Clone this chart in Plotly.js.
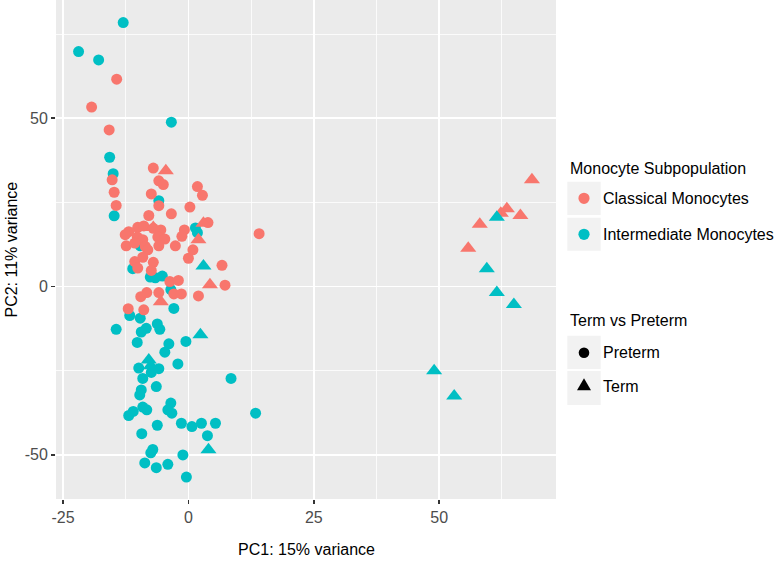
<!DOCTYPE html>
<html>
<head>
<meta charset="utf-8">
<script src="https://cdn.plot.ly/plotly-3.0.1.min.js"></script>
<style>
  html, body { margin: 0; padding: 0; background: #ffffff; }
  #chart { width: 778px; height: 562px; }
</style>
</head>
<body>
<div id="chart"></div>
<script>
// ---------------- DATA ----------------
const subpopulations = ["Classical Monocytes", "Intermediate Monocytes"];
const termGroups = ["Preterm", "Term"];

const classicalPretermX = [-14.3, -19.3, -15.8, -7.0, -5.9, -5.0, -15.2, 1.8, 2.8, -14.8, -7.4, -5.9, -14.4, 0.3, -3.4, -7.9, 3.9, 14.1,
  -10.1, -8.9, -11.9, -12.6, -7.0, -5.5, -0.8, -1.3, -10.2, -9.1, -12.4, -10.7, -8.6, -8.1, -6.1, -4.7, -5.9, -2.6, 0.9, 0.0,
  -10.7, -9.1, -7.0, -10.1, -7.4, 6.7, -3.7, -2.0, 7.3, -9.5, -8.3, -5.9, -2.9, -1.4, 2.0, -12.0, -8.9];
const classicalPretermY = [61.6, 53.3, 46.5, 35.2, 31.4, 30.3, 31.7, 29.7, 27.1, 28.0, 27.5, 24.0, 24.1, 23.6, 21.6, 21.1, 19.0, 15.7,
  17.6, 18.0, 16.3, 15.4, 17.3, 16.8, 16.8, 14.9, 14.7, 13.9, 12.1, 12.9, 11.9, 10.9, 14.7, 14.1, 12.1, 12.1, 10.9, 8.4,
  7.4, 8.7, 7.2, 5.5, 4.8, 6.3, 1.5, 1.8, 0.4, -3.0, -1.8, -1.8, -2.2, -2.2, -2.8, -6.6, -6.9];

const classicalTermX = [-4.5, 3.0, -7.0, 2.0, 4.3, -5.5, 68.5, 63.5, 62.3, 66.2, 58.1, 55.8];
const classicalTermY = [34.4, 18.8, 17.5, 13.9, 0.5, -4.5, 31.7, 23.1, 21.8, 21.1, 18.5, 11.4];

const intermediatePretermX = [-13.0, -21.9, -17.9, -3.4, -15.7, -15.0, -5.9, -14.8, 1.4, 1.8, -9.6, -11.1, -7.6, -6.6, -5.2, -3.5, -2.9,
  -11.7, -9.6, -14.4, -8.4, -9.4, -6.2, -5.7, -10.2, -3.9, -4.7, -0.5, -2.1, -9.9, -7.4, -5.9, -9.1, 8.5, -6.4, -9.4, -9.7,
  -3.5, -4.1, -3.3, -9.1, -8.3, -11.0, -11.9, 13.4, -6.2, -1.4, 0.7, 2.6, 5.4, -9.3, 3.8, -7.1, -7.5, -1.1, -8.7, -6.4, -4.1, -0.4];
const intermediatePretermY = [78.4, 69.8, 67.3, 48.8, 38.4, 33.5, 25.5, 21.0, 17.4, 16.0, 12.1, 5.3, 2.8, 2.6, 3.1, -0.9, -6.5,
  -8.6, -9.4, -12.7, -12.4, -13.5, -11.1, -12.7, -16.6, -17.0, -19.5, -16.3, -23.0, -24.2, -25.5, -24.4, -27.3, -27.3, -29.7, -30.7, -32.2,
  -34.6, -36.6, -37.6, -35.8, -36.6, -37.1, -38.3, -37.6, -41.2, -40.6, -41.6, -40.6, -40.6, -43.7, -44.3, -48.4, -49.4, -50.0, -52.4, -53.8, -52.8, -56.6];

const intermediateTermX = [3.0, 2.4, -7.9, -7.5, 4.0, 61.5, 59.5, 61.5, 64.9, 49.0, 53.0];
const intermediateTermY = [6.1, -14.3, -21.8, -23.5, -48.5, 20.6, 5.3, -1.8, -5.3, -25.0, -32.5];

const xTickVals = [-25, 0, 25, 50];
const xTickText = ["-25", "0", "25", "50"];
const xMinorVals = [-12.5, 12.5, 37.5, 62.5];
const yTickVals = [-50, 0, 50];
const yTickText = ["-50", "0", "50"];
const yMinorVals = [-25, 25, 75];

const colors = ["#F8766D", "#00BFC4"];

// ---------------- LAYOUT GEOMETRY ----------------
const W = 778, H = 562, L = 56, R = 222, T = 0, B = 63;
const PW = W - L - R, PH = H - T - B;
const px = x => (x - L) / PW;          // pixel x -> paper x
const py = y => (T + PH - y) / PH;     // pixel y -> paper y
const FONT = "Liberation Sans, Arial, Helvetica, sans-serif";

function pts(x, y, color, symbol, size) {
  return {
    type: "scatter", mode: "markers", x: x, y: y, showlegend: false, hoverinfo: "skip",
    marker: { color: color, symbol: symbol, size: size, line: { width: 0 } }
  };
}

const data = [
  pts(intermediatePretermX, intermediatePretermY, colors[1], "circle", 11),
  pts(classicalPretermX, classicalPretermY, colors[0], "circle", 11),
  pts(classicalTermX, classicalTermY, colors[0], "triangle-up", 14),
  pts(intermediateTermX, intermediateTermY, colors[1], "triangle-up", 14)
];

// legend (drawn ggplot-style)
const shapes = [];
const annotations = [];
function keyBox(y0, y1) {
  shapes.push({ type: "rect", xref: "paper", yref: "paper", x0: px(567.3), x1: px(600.7), y0: py(y1), y1: py(y0),
    fillcolor: "#F2F2F2", line: { width: 0 }, layer: "above" });
}
function keyCircle(cy, color, r) {
  shapes.push({ type: "circle", xref: "paper", yref: "paper", xsizemode: "pixel", ysizemode: "pixel",
    xanchor: px(584), yanchor: py(cy), x0: -r, x1: r, y0: -r, y1: r, fillcolor: color, line: { width: 0 }, layer: "above" });
}
function keyTriangle(cy, color) {
  shapes.push({ type: "path", xref: "paper", yref: "paper", xsizemode: "pixel", ysizemode: "pixel",
    xanchor: px(584), yanchor: py(cy), path: "M-7,-4.2 L7,-4.2 L0,7.8 Z", fillcolor: color, line: { width: 0 }, layer: "above" });
}
function label(text, x, y, anchor) {
  annotations.push({ text: text, xref: "paper", yref: "paper", x: px(x), y: py(y), xanchor: anchor || "left", yanchor: "middle",
    showarrow: false, font: { family: FONT, size: 16, color: "#000000" }, borderpad: 0 });
}

label("Monocyte Subpopulation", 569, 168);
keyBox(181.7, 215); keyBox(217.7, 250.7);
keyCircle(198.3, colors[0], 5.6); keyCircle(234.3, colors[1], 5.6);
label(subpopulations[0], 601.5, 198.3);
label(subpopulations[1], 601.5, 234.3);

label("Term vs Preterm", 569, 320.7);
keyBox(335.7, 369); keyBox(371, 405);
keyCircle(352.7, "#000000", 5.3);
keyTriangle(386, "#000000");
label(termGroups[0], 601.5, 352.7);
label(termGroups[1], 601.5, 386);

// axis titles
annotations.push({ text: "PC1: 15% variance", xref: "paper", yref: "paper", x: 0.5, y: py(549), xanchor: "center", yanchor: "middle",
  showarrow: false, font: { family: FONT, size: 16, color: "#000000" } });
annotations.push({ text: "PC2: 11% variance", xref: "paper", yref: "paper", x: px(11), y: 0.5, xanchor: "center", yanchor: "middle",
  textangle: -90, showarrow: false, font: { family: FONT, size: 16, color: "#000000" } });

const axisCommon = {
  ticks: "outside", ticklen: 4, tickwidth: 1.6, tickcolor: "#333333",
  tickfont: { family: FONT, size: 16, color: "#4D4D4D" },
  showgrid: true, gridcolor: "#FFFFFF", gridwidth: 1.6,
  zeroline: false, showline: false, fixedrange: true
};

const layout = {
  width: W, height: H,
  margin: { l: L, r: R, t: T, b: B, pad: 0 },
  paper_bgcolor: "#FFFFFF", plot_bgcolor: "#EBEBEB",
  showlegend: false, hovermode: false,
  xaxis: Object.assign({}, axisCommon, {
    range: [-26.4, 73.3], tickmode: "array", tickvals: xTickVals, ticktext: xTickText,
    minor: { tickmode: "array", tickvals: xMinorVals, showgrid: true, gridcolor: "#FFFFFF", gridwidth: 0.8, ticks: "" }
  }),
  yaxis: Object.assign({}, axisCommon, {
    range: [-63.1, 85.1], tickmode: "array", tickvals: yTickVals, ticktext: yTickText,
    minor: { tickmode: "array", tickvals: yMinorVals, showgrid: true, gridcolor: "#FFFFFF", gridwidth: 0.8, ticks: "" }
  }),
  shapes: shapes,
  annotations: annotations,
  font: { family: FONT }
};

Plotly.newPlot("chart", data, layout, { displayModeBar: false, staticPlot: true });
</script>
</body>
</html>
